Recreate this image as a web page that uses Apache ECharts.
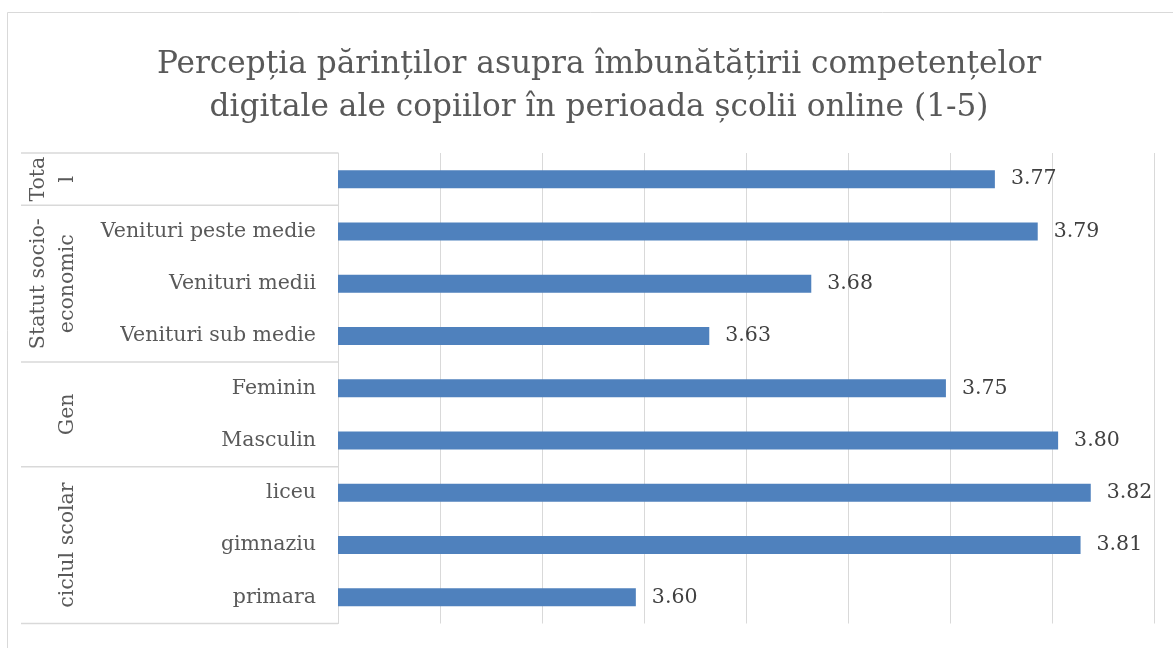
<!DOCTYPE html>
<html>
<head>
<meta charset="utf-8">
<script src="https://cdn.jsdelivr.net/npm/echarts@6/dist/echarts.min.js"></script>
<style>
html,body{margin:0;padding:0;background:#fff;}
#chart{width:1173px;height:648px;}
</style>
</head>
<body>
<div id="chart"></div>
<script>
// ---- data ----
const titleText = 'Percepția părinților asupra îmbunătățirii competențelor\ndigitale ale copiilor în perioada școlii online (1-5)';
const categories = ['', 'Venituri peste medie', 'Venituri medii', 'Venituri sub medie', 'Feminin', 'Masculin', 'liceu', 'gimnaziu', 'primara'];
const values = [3.772, 3.793, 3.682, 3.632, 3.748, 3.803, 3.819, 3.814, 3.596];
const groupNames = ['Tota\nl', 'Statut socio-\neconomic', 'Gen', 'ciclul scolar'];
const groupSizes = [1, 3, 2, 3];
const axisMin = 3.45, axisMax = 3.85, axisStep = 0.05;

const FONT = 'DejaVu Serif';
const chart = echarts.init(document.getElementById('chart'));

const option = {
  animation: false,
  backgroundColor: '#fff',
  title: {
    text: titleText,
    left: 594,
    top: 38,
    textAlign: 'center',
    textStyle: {
      fontFamily: FONT, fontSize: 31.2, fontWeight: 'normal',
      color: '#595959', lineHeight: 43
    }
  },
  grid: { left: 338, right: 19, top: 153, bottom: 24.5, containLabel: false },
  xAxis: {
    type: 'value', min: axisMin, max: axisMax, interval: axisStep,
    axisLabel: { show: false }, axisLine: { show: false }, axisTick: { show: false },
    splitLine: { show: true, lineStyle: { color: '#d9d9d9', width: 1 } }
  },
  yAxis: {
    type: 'category', inverse: true, data: categories,
    axisLine: { show: true, lineStyle: { color: '#d9d9d9', width: 1 } },
    axisTick: { show: false },
    axisLabel: { margin: 22, fontFamily: FONT, fontSize: 20.5, color: '#595959' }
  },
  series: [{
    type: 'bar', data: values, barWidth: 18,
    itemStyle: { color: '#4f81bd' },
    label: {
      show: true, position: 'right', distance: 16,
      fontFamily: FONT, fontSize: 20.5, color: '#404040',
      formatter: p => p.value.toFixed(2)
    }
  }]
};
chart.setOption(option);

// group separators and rotated group names, positioned from the axis scale
const c0 = chart.convertToPixel({ yAxisIndex: 0 }, 0);
const c1 = chart.convertToPixel({ yAxisIndex: 0 }, 1);
const band = c1 - c0;
const axisX = chart.convertToPixel({ xAxisIndex: 0 }, axisMin);
const lineLeft = 21;
const graphics = [{
  type: 'rect', shape: { x: 7.5, y: 12.5, width: 1300, height: 800 },
  style: { fill: 'none', stroke: '#d9d9d9', lineWidth: 1 }, silent: true
}];
let idx = 0;
const boundary = i => c0 - band / 2 + i * band;
graphics.push({
  type: 'line', shape: { x1: lineLeft, y1: boundary(0), x2: axisX, y2: boundary(0) },
  style: { stroke: '#d9d9d9', lineWidth: 1.5 }
});
groupSizes.forEach((n, g) => {
  const yTop = boundary(idx), yBot = boundary(idx + n);
  graphics.push({
    type: 'line', shape: { x1: lineLeft, y1: yBot, x2: axisX, y2: yBot },
    style: { stroke: '#d9d9d9', lineWidth: 1.5 }
  });
  graphics.push({
    type: 'text', x: 82, y: (yTop + yBot) / 2, rotation: Math.PI / 2,
    style: {
      text: groupNames[g], fontFamily: FONT, fontSize: 20.5, fill: '#595959',
      align: 'center', verticalAlign: 'bottom', lineHeight: 29
    }
  });
  idx += n;
});
chart.setOption({ graphic: graphics });
</script>
</body>
</html>
